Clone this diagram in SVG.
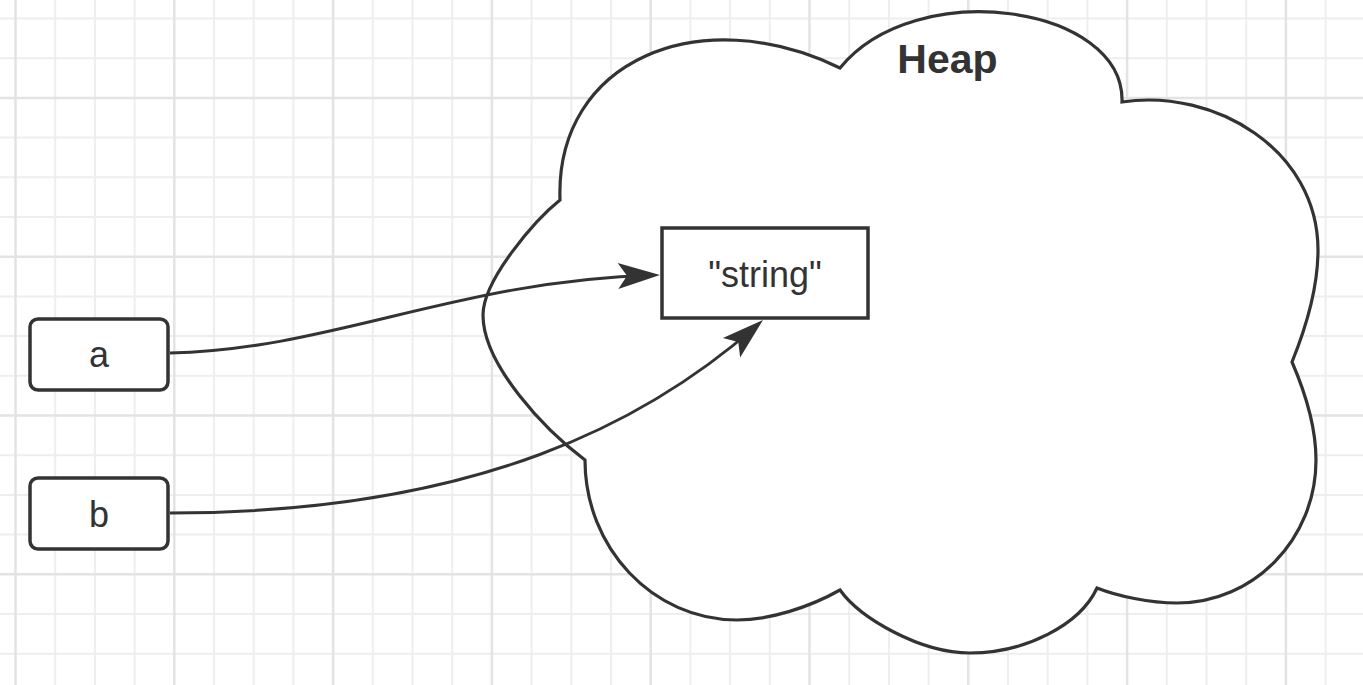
<svg xmlns="http://www.w3.org/2000/svg" width="1363" height="685" viewBox="0 0 1363 685">
  <style>
    .grid-minor { stroke: #eeeeee; stroke-width: 2; fill: none; }
    .grid-major { stroke: #e3e3e3; stroke-width: 2.5; fill: none; }
    .shape { fill: #ffffff; stroke: #333333; stroke-width: 3.5; }
    .cloud { fill: #ffffff; stroke: #333333; stroke-width: 3.2; stroke-linejoin: miter; }
    .edge { fill: none; stroke: #333333; stroke-width: 3; }
    .label { font-family: "Liberation Sans", Arial, "Noto Sans", sans-serif; font-size: 36px; fill: #333333; text-anchor: middle; }
    .title { font-family: "Liberation Sans", Arial, "Noto Sans", sans-serif; font-size: 41px; font-weight: bold; fill: #333333; text-anchor: middle; }
  </style>
  <defs>
    <marker id="arrow" viewBox="-44 -15 46 30" refX="-6" refY="0" markerWidth="46" markerHeight="30" markerUnits="userSpaceOnUse" orient="auto">
      <path d="M0 0 L-42 -13 L-33 0 L-42 13 Z" fill="#333333"/>
    </marker>
  </defs>

  <rect x="0" y="0" width="1363" height="685" fill="#ffffff"/>

  <g id="grid">
    <path class="grid-minor" d="M55.2 0V685M94.9 0V685M134.6 0V685M214 0V685M253.7 0V685M293.4 0V685M372.8 0V685M412.5 0V685M452.2 0V685M531.6 0V685M571.3 0V685M611 0V685M690.4 0V685M730.1 0V685M769.8 0V685M849.2 0V685M888.9 0V685M928.6 0V685M1008 0V685M1047.7 0V685M1087.4 0V685M1166.8 0V685M1206.5 0V685M1246.2 0V685M1325.6 0V685M0 18.5H1363M0 58.2H1363M0 137.6H1363M0 177.3H1363M0 217H1363M0 296.4H1363M0 336.1H1363M0 375.8H1363M0 455.2H1363M0 494.9H1363M0 534.6H1363M0 614H1363M0 653.7H1363"/>
    <path class="grid-major" d="M15.5 0V685M174.3 0V685M333.1 0V685M491.9 0V685M650.7 0V685M809.5 0V685M968.3 0V685M1127.1 0V685M1285.9 0V685M0 97.9H1363M0 256.7H1363M0 415.5H1363M0 574.3H1363"/>
  </g>

  <g id="heap">
    <path class="cloud" d="M560 200 C555 60 700 0 840 68 C915 -25 1125 5 1122 102 C1215 88 1318 150 1318 250 C1318 290 1305 330 1292 362 C1305 392 1316 425 1316 460 C1316 539 1254 603 1177 603 C1150 603 1117 596 1097 588 C1080 625 1025 653 970 653 C920 653 860 618 840 590 C810 607 770 620 737 620 C653 620 585 548 585 460 C545 430 483 365 483 315 C483 280 535 220 560 200 Z"/>
    <text class="title" x="947.5" y="73">Heap</text>
  </g>

  <g id="string">
    <rect class="shape" x="662" y="228" width="206" height="90"/>
    <text class="label" x="765" y="287">"string"</text>
  </g>

  <g id="connectors">
    <path class="edge" d="M170 353 C330 350 460 280 654 275.2" marker-end="url(#arrow)"/>
    <path class="edge" d="M170 513 C480 513 650 420 758.5 324" marker-end="url(#arrow)"/>
  </g>

  <g id="a">
    <rect class="shape" x="30" y="319" width="138" height="71" rx="8" ry="8"/>
    <text class="label" x="99" y="367">a</text>
  </g>

  <g id="b">
    <rect class="shape" x="30" y="478" width="138" height="71" rx="8" ry="8"/>
    <text class="label" x="99" y="527">b</text>
  </g>
</svg>
